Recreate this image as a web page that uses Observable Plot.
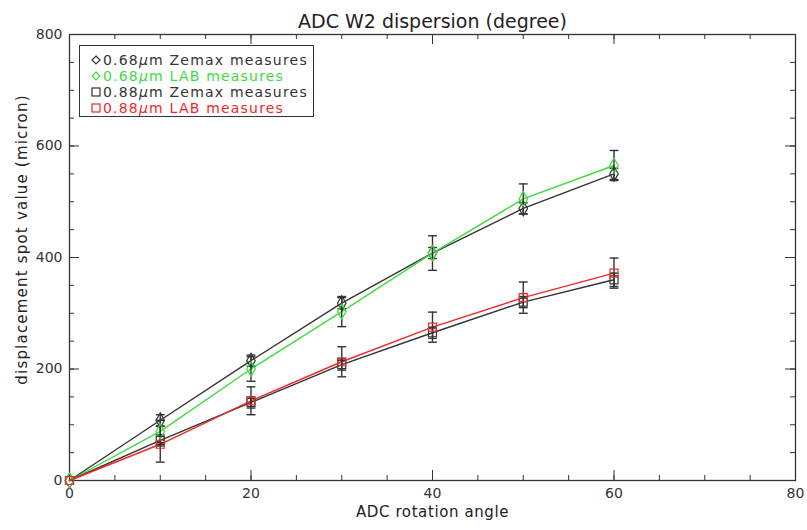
<!DOCTYPE html>
<html>
<head>
<meta charset="utf-8">
<script src="https://cdn.jsdelivr.net/npm/d3@7"></script>
<script src="https://cdn.jsdelivr.net/npm/@observablehq/plot@0.6"></script>
<style>
  body { margin: 0; background: #fff; }
  #wrap { position: relative; width: 807px; height: 530px; font-family: "DejaVu Sans", sans-serif; }
  #legend { position: absolute; left: 79px; top: 45px; width: 235px; height: 72px; border: 1.5px solid #333; background: #fff; box-sizing: border-box; padding-top: 6px; padding-left: 11px; }
  #legend .row { height: 16px; line-height: 16px; font-size: 14px; letter-spacing: 1.2px; white-space: nowrap; display: flex; align-items: center; }
  #legend svg { margin-right: 2px; }
  #legend i { font-style: italic; }
</style>
</head>
<body>
<div id="wrap"></div>
<script>
// ---- data ----
const angles = [0, 10, 20, 30, 40, 50, 60];
const zemax068 = [0, 108, 215, 318, 408, 488, 550];
const zemax068Err = [0, 10, 10, 10, 10, 10, 10];
const lab068 = [0, 88, 200, 303, 408, 505, 565];
const lab068Err = [0, 20, 22, 27, 31, 27, 27];
const zemax088 = [0, 72, 140, 208, 265, 320, 360];
const zemax088Err = [0, 10, 10, 10, 10, 10, 12];
const lab088 = [0, 65, 143, 213, 275, 328, 372];
const lab088Err = [0, 32, 25, 27, 27, 28, 27];

const xTicks = [0, 20, 40, 60, 80];
const yTicks = [0, 200, 400, 600, 800];
const xMinor = d3.range(0, 81, 5);
const yMinor = d3.range(0, 801, 50);

const titleText = "ADC W2 dispersion (degree)";
const xLabel = "ADC rotation angle";
const yLabel = "displacement spot value (micron)";

const series = [
  {key: "z068", label: ["0.68", "Zemax measures"], values: zemax068, err: zemax068Err, color: "#333333", symbol: "diamond"},
  {key: "l068", label: ["0.68", "LAB measures"], values: lab068, err: lab068Err, color: "#3ddc3d", symbol: "diamond"},
  {key: "z088", label: ["0.88", "Zemax measures"], values: zemax088, err: zemax088Err, color: "#333333", symbol: "square"},
  {key: "l088", label: ["0.88", "LAB measures"], values: lab088, err: lab088Err, color: "#f02828", symbol: "square"}
];

const rows = series.flatMap(s => angles.map((a, i) => ({
  key: s.key, angle: a, value: s.values[i], lo: s.values[i] - s.err[i], hi: s.values[i] + s.err[i],
  err: s.err[i], color: s.color, symbol: s.symbol
})));
const errRows = rows.filter(d => d.err > 0);

const capSymbol = {draw(ctx, size) { const w = Math.sqrt(size) / 2; ctx.moveTo(-w, 0); ctx.lineTo(w, 0); }};

const W = 807, H = 530, ML = 69, MR = 12, MT = 34, MB = 50;
const innerW = W - ML - MR, innerH = H - MT - MB;
const axisColor = "#333";

const chart = Plot.plot({
  width: W, height: H,
  marginLeft: ML, marginRight: MR, marginTop: MT, marginBottom: MB,
  style: {fontFamily: "DejaVu Sans, sans-serif", background: "#fff", color: axisColor},
  x: {domain: [0, 80], label: null},
  y: {domain: [0, 800], label: null},
  marks: [
    // minor / major ticks (inward, all four sides)
    Plot.ruleX(xMinor, {stroke: axisColor, insetTop: innerH - 5}),
    Plot.ruleX(xMinor, {stroke: axisColor, insetBottom: innerH - 5}),
    Plot.ruleX(xTicks, {stroke: axisColor, insetTop: innerH - 10}),
    Plot.ruleX(xTicks, {stroke: axisColor, insetBottom: innerH - 10}),
    Plot.ruleY(yMinor, {stroke: axisColor, insetRight: innerW - 5}),
    Plot.ruleY(yMinor, {stroke: axisColor, insetLeft: innerW - 5}),
    Plot.ruleY(yTicks, {stroke: axisColor, insetRight: innerW - 10}),
    Plot.ruleY(yTicks, {stroke: axisColor, insetLeft: innerW - 10}),
    Plot.frame({stroke: axisColor, strokeWidth: 1.3}),
    Plot.axisX({ticks: xTicks, tickSize: 0, tickPadding: 8, fontSize: 14, tickFormat: d => String(d)}),
    Plot.axisY({ticks: yTicks, tickSize: 0, tickPadding: 7, fontSize: 14, tickFormat: d => String(d)}),
    // lines
    Plot.line(rows, {x: "angle", y: "value", z: "key", stroke: "color", strokeWidth: 1.4}),
    // error bars
    Plot.ruleX(errRows, {x: "angle", y1: "lo", y2: "hi", stroke: "#333", strokeWidth: 1.4}),
    Plot.dot(errRows, {x: "angle", y: "lo", symbol: capSymbol, r: 5, stroke: "#333", strokeWidth: 1.4}),
    Plot.dot(errRows, {x: "angle", y: "hi", symbol: capSymbol, r: 5, stroke: "#333", strokeWidth: 1.4}),
    // markers
    Plot.dot(rows, {x: "angle", y: "value", symbol: "symbol", stroke: "color", fill: "none", r: 4.5, strokeWidth: 1.2}),
    // texts
    Plot.text([titleText], {frameAnchor: "top", dy: -20, fontSize: 19, fill: "#222"}),
    Plot.text([xLabel], {frameAnchor: "bottom", dy: 36, fontSize: 15, fill: "#222"}),
    Plot.text([yLabel], {frameAnchor: "left", textAnchor: "middle", rotate: -90, dx: -47, dy: -18, fontSize: 15, fill: "#222"})
  ]
});

// letter spacing for axis titles
chart.querySelectorAll("text").forEach(t => {
  if (t.textContent === xLabel) t.setAttribute("letter-spacing", "0.6");
  if (t.textContent === yLabel) t.setAttribute("letter-spacing", "1.2");
});

const wrap = document.getElementById("wrap");
wrap.appendChild(chart);

// legend
const legend = document.createElement("div");
legend.id = "legend";
for (const s of series) {
  const row = document.createElement("div");
  row.className = "row";
  row.style.color = s.color;
  const shape = s.symbol === "diamond"
    ? `<polygon points="5,1 9,5 5,9 1,5" fill="none" stroke="${s.color}" stroke-width="1.2"/>`
    : `<rect x="1" y="1" width="8" height="8" fill="none" stroke="${s.color}" stroke-width="1.2"/>`;
  row.innerHTML = `<svg width="10" height="10">${shape}</svg>${s.label[0]}<i>μ</i>m ${s.label[1]}`;
  legend.appendChild(row);
}
wrap.appendChild(legend);
</script>
</body>
</html>
